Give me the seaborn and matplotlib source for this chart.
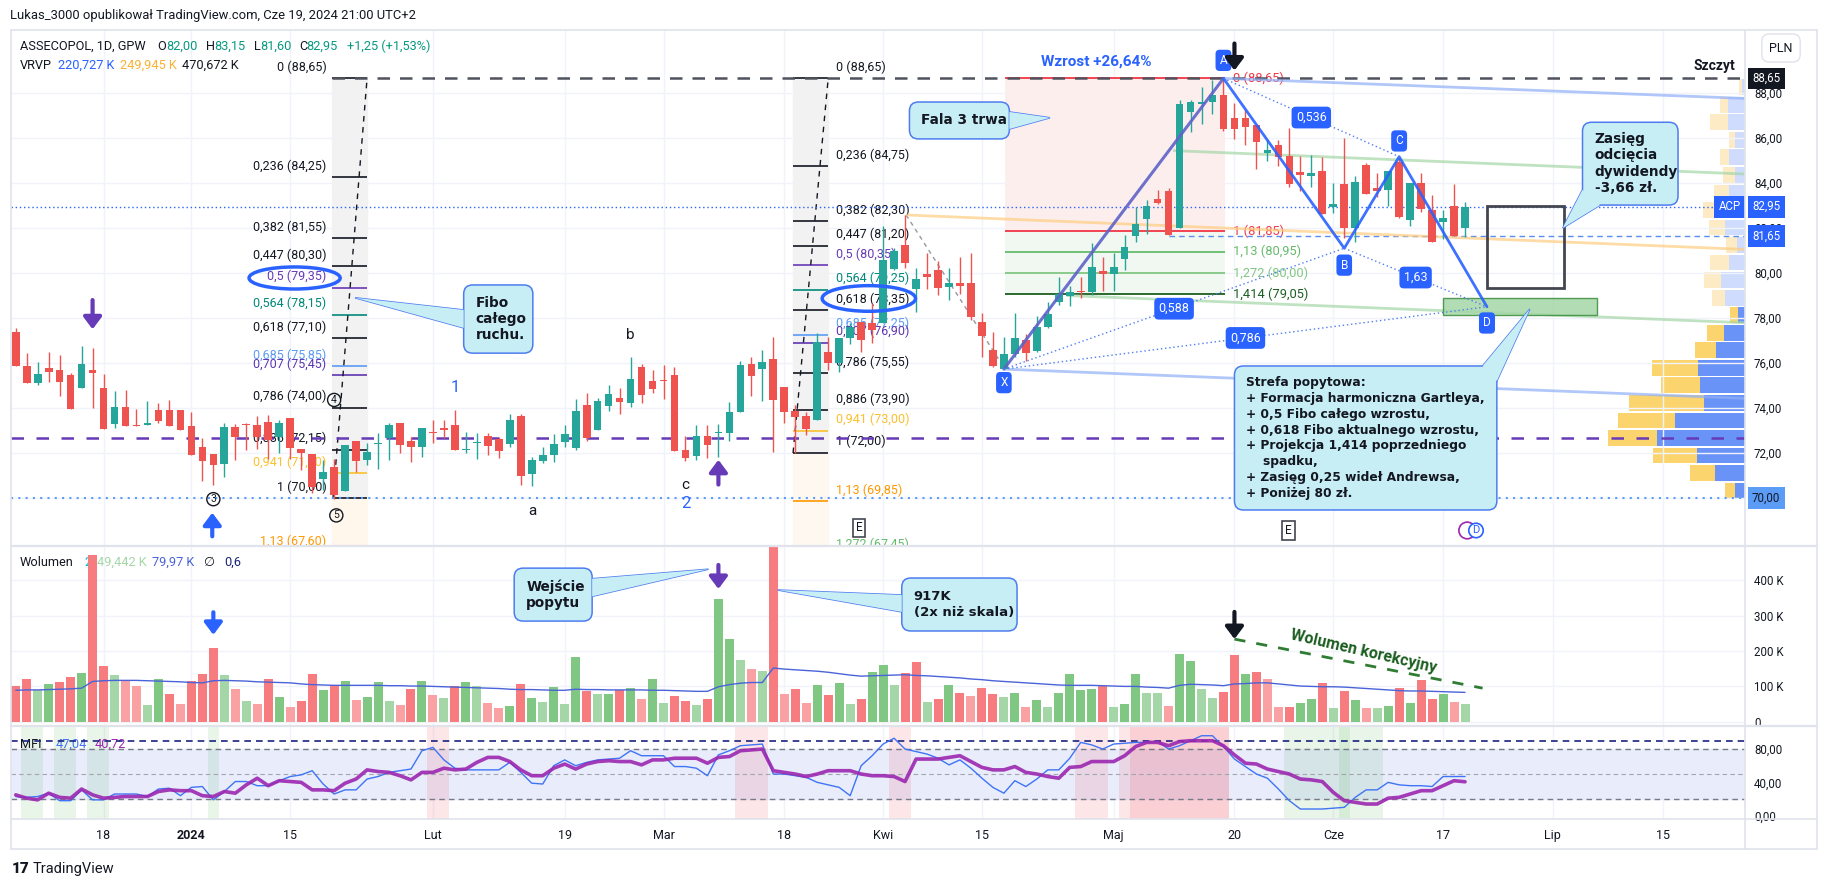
import matplotlib
matplotlib.use("Agg")
import matplotlib.pyplot as plt
import numpy as np
import pandas as pd
import seaborn as sns
from matplotlib.lines import Line2D
from matplotlib.patches import Ellipse, FancyBboxPatch, Polygon, Rectangle
from matplotlib.transforms import IdentityTransform

# ------------------------------------------------------------------ data
first_day = "2023-12-06"
last_day = "2024-07-31"
gpw_holidays = ["2023-12-25", "2023-12-26", "2024-01-01", "2024-03-29",
                "2024-04-01", "2024-05-01", "2024-05-03", "2024-05-30"]

tick_dates = ["2023-12-18", "2024-01-02", "2024-01-15", "2024-02-01", "2024-02-19",
              "2024-03-01", "2024-03-18", "2024-04-02", "2024-04-15", "2024-05-02",
              "2024-05-20", "2024-06-03", "2024-06-17", "2024-07-01", "2024-07-15"]
tick_labels = ["18", "2024", "15", "Lut", "19", "Mar", "18", "Kwi", "15", "Maj",
               "20", "Cze", "17", "Lip", "15"]

open_ = [
    77.40, 75.87, 75.13, 75.79, 75.69, 75.47, 74.90, 75.69, 74.90, 73.30,
    74.04, 73.26, 73.26, 73.91, 73.91, 73.91, 73.21, 72.25, 71.96, 71.53,
    73.17, 73.30, 73.23, 73.36, 72.71, 73.57, 72.18, 71.96, 70.83, 71.38,
    70.33, 72.53, 71.69, 72.41, 72.65, 73.32, 72.53, 72.28, 72.95, 73.10,
    73.24, 72.13, 72.46, 72.74, 72.62, 72.40, 73.64, 71.07, 71.64, 71.91,
    72.50, 72.24, 74.13, 73.02, 74.10, 74.46, 74.24, 75.81, 75.20, 75.24,
    75.47, 72.13, 71.88, 72.76, 72.89, 72.90, 73.84, 75.96, 75.73, 76.18,
    74.95, 73.88, 73.64, 73.47, 76.47, 76.01, 77.13, 77.84, 77.76, 77.76,
    80.19, 81.23, 79.27, 79.94, 80.13, 79.38, 79.54, 79.54, 77.81, 76.58,
    75.73, 76.39, 77.02, 76.55, 77.58, 78.72, 78.99, 79.18, 79.14, 80.09,
    79.96, 80.61, 81.64, 82.39, 83.27, 83.64, 82.01, 87.17, 87.50, 87.59,
    87.91, 86.88, 86.91, 86.58, 85.35, 85.69, 85.20, 84.48, 84.33, 84.54,
    82.95, 83.96, 82.00, 84.80, 83.76, 83.71, 84.92, 82.36, 84.00, 82.80,
    82.28, 82.98, 82.00]
high = [
    77.55, 76.43, 76.04, 76.50, 76.36, 75.54, 76.76, 76.65, 75.50, 74.76,
    74.80, 73.97, 74.31, 74.24, 74.37, 73.93, 73.84, 72.65, 71.96, 73.32,
    73.27, 73.33, 73.66, 73.69, 73.48, 73.57, 72.18, 71.96, 71.69, 71.72,
    72.36, 72.53, 72.43, 72.87, 73.32, 73.32, 72.73, 73.10, 73.45, 73.45,
    73.91, 72.93, 72.90, 72.90, 72.73, 73.73, 73.73, 71.83, 72.28, 72.84,
    73.24, 74.39, 74.69, 74.46, 75.02, 74.90, 76.28, 75.94, 75.69, 75.90,
    75.84, 72.77, 73.24, 73.24, 73.29, 74.28, 76.09, 76.28, 76.60, 77.17,
    74.95, 74.13, 73.84, 77.32, 77.17, 77.13, 77.76, 77.84, 78.65, 82.09,
    81.10, 82.58, 80.23, 80.87, 80.53, 80.24, 80.72, 80.87, 78.21, 77.36,
    77.17, 78.21, 77.29, 78.09, 78.73, 79.81, 79.44, 79.81, 81.32, 80.72,
    80.90, 81.69, 82.95, 83.24, 83.71, 83.76, 87.69, 87.69, 88.25, 88.58,
    88.65, 87.54, 87.24, 86.58, 85.91, 85.91, 86.44, 85.20, 85.24, 85.17,
    84.00, 85.99, 84.32, 84.88, 84.46, 84.52, 85.10, 84.00, 84.44, 83.47,
    82.80, 83.96, 83.15]
low = [
    75.88, 75.13, 75.02, 75.17, 74.53, 73.97, 74.90, 74.01, 73.07, 73.10,
    73.21, 73.19, 73.26, 73.32, 73.21, 73.02, 71.93, 70.77, 70.59, 70.95,
    71.69, 72.13, 72.16, 71.73, 72.00, 71.72, 71.23, 70.21, 70.36, 69.94,
    70.33, 71.17, 71.47, 71.30, 71.69, 72.01, 71.61, 71.83, 72.46, 72.65,
    72.13, 71.99, 71.72, 71.91, 71.79, 72.28, 70.58, 70.53, 71.54, 71.61,
    72.28, 72.13, 72.53, 73.02, 73.88, 73.73, 74.06, 74.24, 74.69, 74.39,
    72.09, 71.64, 71.69, 71.79, 71.83, 72.53, 73.84, 74.53, 74.30, 72.06,
    73.32, 71.99, 72.80, 73.47, 75.69, 75.62, 76.84, 76.50, 76.87, 77.76,
    80.13, 80.23, 78.28, 79.31, 79.02, 78.80, 79.09, 77.90, 76.28, 75.84,
    75.73, 76.28, 76.09, 76.50, 77.55, 78.58, 78.53, 78.87, 79.01, 79.21,
    79.21, 80.13, 81.40, 81.73, 83.06, 81.69, 82.01, 86.28, 86.61, 87.07,
    86.33, 85.96, 85.69, 84.61, 84.99, 84.77, 83.84, 83.66, 83.81, 82.61,
    82.66, 81.54, 81.36, 83.51, 83.39, 82.97, 82.43, 82.10, 82.73, 81.40,
    81.51, 81.64, 81.60]
close = [
    75.88, 75.13, 75.51, 75.61, 75.17, 73.97, 75.96, 75.57, 73.07, 74.04,
    73.21, 73.19, 73.33, 73.42, 73.21, 73.02, 71.93, 71.64, 71.47, 73.17,
    72.70, 73.23, 72.73, 72.58, 73.33, 72.24, 72.01, 70.48, 71.16, 70.13,
    72.36, 71.64, 72.04, 72.44, 73.26, 72.38, 72.28, 73.10, 72.87, 73.04,
    72.13, 72.19, 72.50, 72.33, 72.09, 73.47, 70.98, 71.69, 71.91, 72.40,
    72.84, 73.87, 72.65, 74.31, 74.62, 74.28, 75.29, 74.58, 74.86, 75.19,
    72.09, 71.79, 72.76, 72.36, 72.93, 73.82, 75.91, 75.42, 76.03, 74.36,
    73.84, 73.61, 73.05, 76.95, 76.01, 77.13, 77.61, 77.02, 77.47, 80.58,
    80.98, 80.46, 79.72, 79.81, 79.35, 79.54, 79.44, 78.06, 77.21, 75.88,
    76.40, 77.10, 76.43, 77.58, 78.18, 79.07, 79.14, 79.14, 80.25, 79.96,
    80.25, 81.17, 82.18, 82.98, 83.12, 81.69, 87.50, 87.59, 87.62, 87.91,
    86.39, 86.39, 86.50, 85.84, 85.47, 85.17, 83.96, 84.36, 84.44, 82.61,
    83.05, 82.00, 84.04, 83.51, 83.66, 84.52, 82.47, 84.00, 82.83, 81.40,
    82.43, 81.64, 82.95]

# volume in thousands, with shade code (R/r = down strong/light, G/g = up strong/light)
volume_k = [
    100, 122, 89, 108, 113, 126, 139, 471, 159, 133,
    117, 100, 48, 122, 79, 50, 116, 136, 208, 133,
    93, 59, 50, 122, 70, 42, 59, 136, 90, 105,
    116, 62, 70, 113, 59, 48, 93, 116, 76, 68,
    102, 113, 100, 53, 39, 45, 108, 68, 56, 99,
    50, 182, 88, 79, 79, 89, 96, 65, 122, 53,
    73, 59, 48, 65, 348, 233, 176, 148, 145, 917,
    79, 93, 53, 105, 76, 110, 50, 65, 142, 162,
    105, 139, 170, 56, 65, 105, 82, 73, 96, 79,
    70, 82, 42, 62, 42, 82, 136, 90, 93, 102,
    42, 50, 136, 82, 82, 45, 193, 173, 93, 68,
    85, 188, 136, 142, 122, 42, 42, 53, 65, 110,
    39, 88, 62, 39, 39, 45, 96, 53, 119, 65,
    79, 56, 50]
volume_shade = list(
    "RRgGRRGRRg" "rrgGRrRRRg" "rgrRGrRRGR" "GrGGgrRGrg" "RGgrrGRGgG"
    "gGRgGRGrGg" "RRgRGGgrgR" "rRrGRGgRGG" "gRRgRGRrRR" "gGrGgGGGGR"
    "gGGggrGGgg" "RRGRrrRGGR" "gRGrgGRGRR" "Grg")
volume_ma_k = [
    89, 90, 90, 91, 92, 93, 95, 114, 116, 117,
    117, 117, 116, 115, 114, 113, 111, 110, 116, 117,
    116, 115, 113, 112, 111, 110, 107, 105, 104, 103,
    103, 103, 103, 103, 102, 102, 101, 101, 100, 99,
    98, 97, 96, 95, 94, 92, 91, 91, 90, 89,
    89, 92, 91, 91, 90, 90, 90, 90, 89, 89,
    88, 87, 86, 86, 99, 105, 109, 111, 111, 152,
    149, 147, 145, 143, 140, 136, 132, 129, 130, 131,
    132, 133, 131, 130, 128, 126, 124, 121, 119, 116,
    114, 112, 110, 108, 106, 104, 103, 103, 103, 102,
    101, 100, 100, 98, 97, 95, 103, 106, 105, 104,
    102, 107, 108, 110, 110, 107, 104, 101, 100, 99,
    99, 98, 96, 94, 92, 90, 88, 87, 87, 86,
    85, 84, 83]

mfi = [
    23, 22, 23, 27, 18, 18, 31, 19, 19, 26,
    26, 26, 23, 32, 33, 24, 34, 35, 19, 29,
    41, 41, 36, 36, 42, 47, 49, 54, 38, 26,
    31, 31, 44, 47, 52, 54, 56, 78, 82, 67,
    57, 55, 55, 55, 55, 64, 52, 39, 38, 60,
    67, 60, 64, 67, 68, 69, 78, 72, 72, 72,
    59, 59, 57, 48, 73, 78, 84, 85, 86, 50,
    50, 48, 46, 40, 37, 34, 24, 60, 72, 86,
    93, 80, 77, 74, 69, 61, 67, 57, 45, 34,
    27, 42, 35, 44, 55, 55, 69, 88, 85, 80,
    86, 87, 88, 88, 89, 80, 84, 90, 96, 96,
    83, 68, 59, 50, 45, 32, 18, 8, 8, 8,
    9, 10, 22, 31, 31, 40, 37, 36, 36, 35,
    47, 47, 47.04]
mfi_signal = [
    25, 21, 19, 27, 22, 21, 32, 25, 21, 22,
    23, 23, 23, 29, 31, 30, 30, 24, 23, 29,
    27, 37, 45, 36, 42, 41, 40, 31, 31, 30,
    39, 44, 55, 53, 52, 48, 43, 52, 52, 57,
    55, 56, 64, 70, 70, 65, 55, 48, 48, 57,
    62, 56, 62, 65, 66, 65, 65, 61, 67, 67,
    69, 69, 69, 63, 70, 71, 78, 79, 80, 54,
    52, 50, 47, 50, 54, 54, 54, 50, 48, 48,
    47, 41, 68, 68, 68, 70, 72, 65, 58, 55,
    55, 59, 52, 50, 47, 45, 58, 59, 65, 65,
    65, 72, 83, 88, 88, 84, 89, 90, 90, 90,
    84, 73, 63, 62, 56, 53, 50, 44, 43, 41,
    28, 18, 16, 14, 14, 21, 22, 26, 30, 30,
    36, 42, 40.72]
mfi_low_zones = [(1, 2), (4, 5), (7, 8), (18, 18), (116, 121), (121, 124)]
mfi_high_zones = [(38, 39), (66, 68), (80, 81), (97, 99), (101, 110), (102, 110)]

# visible range volume profile, rows from the low to the high (thousands)
vp_up = [4.0, 12.0, 19.2, 35.2, 28.0, 16.4, 18.0, 18.8, 11.6, 8.4, 2.8, 8.0,
         9.6, 6.4, 3.2, 8.0, 12.0, 6.4, 4.0, 6.4, 4.0, 6.8, 6.8, 1.2]
vp_down = [4.0, 10.0, 17.6, 19.6, 22.8, 30.0, 15.6, 18.4, 8.4, 6.8, 3.2, 5.2,
           6.8, 7.6, 4.4, 6.4, 4.8, 6.0, 4.8, 3.6, 2.4, 7.2, 3.2, 1.2]
vp_value_area = [1, 1, 1, 1, 1, 1, 1, 1, 1, 1, 1, 0, 0, 0, 0, 0, 0, 0, 0, 0, 0, 0, 0, 0]

fib1_levels = [0, 0.236, 0.382, 0.447, 0.5, 0.564, 0.618, 0.685, 0.707, 0.786, 0.886, 0.941, 1, 1.13]
fib1_prices = [88.65, 84.25, 81.55, 80.30, 79.35, 78.15, 77.10, 75.85, 75.45, 74.00, 72.15, 71.10, 70.00, 67.60]
fib2_levels = [0, 0.236, 0.382, 0.447, 0.5, 0.564, 0.618, 0.685, 0.707, 0.786, 0.886, 0.941, 1, 1.13, 1.272]
fib2_prices = [88.65, 84.75, 82.30, 81.20, 80.35, 79.25, 78.35, 77.25, 76.90, 75.55, 73.90, 73.00, 72.00, 69.85, 67.45]
ext_levels = [0, 1, 1.13, 1.272, 1.414]
ext_prices = [88.65, 81.85, 80.95, 80.00, 79.05]

gartley_names = ["X", "A", "B", "C", "D"]
gartley_idx = [90, 110, 121, 126, 134]
gartley_price = [75.73, 88.65, 81.10, 85.17, 78.50]
gartley_ratios = [("X", "B", "0,588"), ("A", "C", "0,536"), ("B", "D", "1,63"), ("X", "D", "0,786")]

# ------------------------------------------------------------------ style
UP, DOWN = "#26a69a", "#ef5350"
VOL_COL = {"R": "#f77c80", "r": "#faa1a4", "G": "#81c784", "g": "#a5d6a7"}
GRID = "#f0f3fa"
TXT = "#131722"
BLUE = "#2962ff"
FIB_COL = {0: TXT, 0.236: TXT, 0.382: TXT, 0.447: TXT, 0.5: "#673ab7", 0.564: "#00897b",
           0.618: TXT, 0.685: "#5b9cf6", 0.707: "#5e35b1", 0.786: TXT, 0.886: TXT,
           0.941: "#fbc02d", 1: TXT, 1.13: "#ff9800", 1.272: "#66bb6a"}
EXT_COL = {0: "#f23645", 1: "#f23645", 1.13: "#66bb6a", 1.272: "#81c784", 1.414: "#1b5e20"}
CALL_FC, CALL_EC = "#c8eef5", "#4e7cf0"

sns.set_theme(style="white")
plt.rcParams["font.family"] = ["Roboto", "DejaVu Sans"]

W, H = 1828, 888
X0, X1 = 11, 1745
PANES = {"price": (30, 546), "vol": (546, 726), "mfi": (726, 819)}
XLIM = (-0.43, 157.5)

days = pd.bdate_range(first_day, last_day, freq="C", holidays=gpw_holidays)
n = len(close)
x = np.arange(n)
o, h, l, c = (np.array(v, dtype=float) for v in (open_, high, low, close))
tick_pos = [days.get_loc(pd.Timestamp(d)) for d in tick_dates]

fig = plt.figure(figsize=(W / 100, H / 100), dpi=100, facecolor="white")


def pane_rect(top, bottom, x0=X0, x1=X1):
    return [x0 / W, 1 - bottom / H, (x1 - x0) / W, (bottom - top) / H]


ax_vp = fig.add_axes(pane_rect(*PANES["price"], x0=X1 - 420))
ax_p = fig.add_axes(pane_rect(*PANES["price"]))
ax_v = fig.add_axes(pane_rect(*PANES["vol"]))
ax_m = fig.add_axes(pane_rect(*PANES["mfi"]))
ax_p.set_facecolor("none")

for ax in (ax_p, ax_v, ax_m):
    ax.set_xlim(*XLIM)
    for sp in ax.spines.values():
        sp.set_visible(False)
    for t in tick_pos:
        ax.axvline(t, color=GRID, lw=1, zorder=0)
    ax.yaxis.tick_right()
    ax.tick_params(axis="both", length=0, labelsize=8.3, colors=TXT)
    ax.tick_params(axis="y", pad=6.5)
    ax.set_xticks([])

ax_p.set_ylim(67.87, 90.8)
ax_v.set_ylim(-12.2, 497.7)
ax_m.set_ylim(-4, 107.7)

# ------------------------------------------------------------------ price pane
p_ticks = np.arange(72, 89, 2)
ax_p.set_yticks(p_ticks, [f"{v:.2f}".replace(".", ",") for v in p_ticks])
for v in np.arange(70, 89, 2):
    ax_p.axhline(v, color=GRID, lw=1, zorder=0)

# volume profile (separate axis, bars grow from the price scale to the left)
vp_edges = np.linspace(l.min(), h.max(), len(vp_up) + 1)
vp_mid = (vp_edges[:-1] + vp_edges[1:]) / 2
vp_h = (vp_edges[1] - vp_edges[0]) * 0.9
va = np.array(vp_value_area, dtype=bool)
ax_vp.set_ylim(ax_p.get_ylim())
ax_vp.set_xlim(168, 0)
ax_vp.barh(vp_mid, vp_up, height=vp_h, color=np.where(va, "#6a93f8", "#cfdcfd"), lw=0)
ax_vp.barh(vp_mid, vp_down, left=vp_up, height=vp_h, color=np.where(va, "#fbd46e", "#fdebc6"), lw=0)
ax_vp.axis("off")


def xfrac(v):
    return (v - XLIM[0]) / (XLIM[1] - XLIM[0])


# fib retracement boxes
ax_p.axhspan(70.0, 88.65, xmin=xfrac(28.8), xmax=xfrac(32.0), color="#f2f2f2", zorder=1)
ax_p.axhspan(67.6, 70.0, xmin=xfrac(28.8), xmax=xfrac(32.0), color="#fff6ec", zorder=1)
ax_p.axhspan(72.0, 88.65, xmin=xfrac(70.8), xmax=xfrac(74.0), color="#f2f2f2", zorder=1)
ax_p.axhspan(67.45, 72.0, xmin=xfrac(70.8), xmax=xfrac(74.0), color="#fff8f0", zorder=1)


def fib_fmt(level, price):
    return f"{level:g}".replace(".", ",") + " (" + f"{price:.2f}".replace(".", ",") + ")"


for lv, pr in zip(fib1_levels, fib1_prices):
    ax_p.hlines(pr, 28.8, 32.0, color=FIB_COL[lv], lw=1.2, zorder=2)
    ax_p.text(28.3, pr + 0.5, fib_fmt(lv, pr), color=FIB_COL[lv], ha="right", va="center",
              fontsize=9, zorder=2)
for lv, pr in zip(fib2_levels, fib2_prices):
    ax_p.hlines(pr, 70.8, 74.0, color=FIB_COL[lv], lw=1.2, zorder=2)
    ax_p.text(74.7, pr + 0.5, fib_fmt(lv, pr), color=FIB_COL[lv], ha="left", va="center",
              fontsize=9, zorder=2)
ax_p.plot([28.9, 32.0], [70.0, 88.65], ls=(0, (4, 4)), color=TXT, lw=1, zorder=3)
ax_p.plot([70.8, 74.0], [72.0, 88.65], ls=(0, (4, 4)), color=TXT, lw=1, zorder=3)

# trend based extension box
ax_p.fill_between([90.1, 110.1], ext_prices[1], ext_prices[0], color="#fdeeee", zorder=1, lw=0)
ax_p.fill_between([90.1, 110.1], ext_prices[-1], ext_prices[1], color="#f1f7f1", zorder=1, lw=0)
for lv, pr in zip(ext_levels, ext_prices):
    ax_p.hlines(pr, 90.1, 110.1, color=EXT_COL[lv], lw=1.3, zorder=2)
    ax_p.text(110.9, pr, fib_fmt(lv, pr), color=EXT_COL[lv], ha="left", va="center",
              fontsize=9.3, zorder=2)
ax_p.plot([81.1, 90.1], [82.58, 75.73], ls=(0, (3, 3)), color="#9598a1", lw=1, zorder=3)

# horizontal levels and fork lines
ax_p.hlines(88.65, 28.8, XLIM[1], color="#50535e", lw=1.8, ls=(0, (5, 4)), zorder=3)
ax_p.axhline(72.68, color="#673ab7", lw=1.8, ls=(0, (5, 5)), zorder=3)
ax_p.axhline(70.0, color="#5b9cf6", lw=1.5, ls=(0, (1, 2.5)), zorder=3)
ax_p.axhline(82.95, color=BLUE, lw=1, ls=(0, (1, 2)), zorder=3)
ax_p.hlines(81.65, 105, XLIM[1], color="#5b8def", lw=1, ls=(0, (4, 3)), zorder=3)
for (xa, ya), (xb, yb), col in [((110, 88.65), (157.5, 87.76), "#90b0f8"),
                                ((90, 75.73), (157.5, 74.43), "#90b0f8"),
                                ((105.4, 85.44), (157.5, 84.40), "#a5d6a7"),
                                ((95.7, 79.0), (157.5, 77.79), "#a5d6a7"),
                                ((81.1, 82.58), (157.5, 81.05), "#ffcc80")]:
    ax_p.plot([xa, xb], [ya, yb], color=col, lw=2, alpha=0.7, zorder=3, solid_capstyle="butt")

ax_p.add_patch(Rectangle((134, 79.32), 7, 3.64, fill=False, ec="#434651", lw=2, zorder=6))
ax_p.add_patch(Rectangle((130, 78.13), 14, 0.74, fc="#a5d6a7", ec="#388e3c", lw=1, alpha=0.85, zorder=6))

# candles
candle_col = np.where(c >= o, UP, DOWN)
ax_p.vlines(x, l, h, colors=candle_col, lw=1, zorder=4)
ax_p.bar(x, np.maximum(np.abs(c - o), 0.05), bottom=np.minimum(o, c), width=0.7,
         color=candle_col, lw=0, zorder=5)

# gartley
gx = dict(zip(gartley_names, gartley_idx))
gy = dict(zip(gartley_names, gartley_price))
ax_p.plot(gartley_idx[:2], gartley_price[:2], color="#5d63c9", lw=2.2, alpha=0.9, zorder=6)
ax_p.plot(gartley_idx[1:], gartley_price[1:], color=BLUE, lw=2, alpha=0.9, zorder=6)
for a, b, txt in gartley_ratios:
    ax_p.plot([gx[a], gx[b]], [gy[a], gy[b]], ls=(0, (1, 2)), color="#4f7df0", lw=1, zorder=6)
    ax_p.text((gx[a] + gx[b]) / 2, (gy[a] + gy[b]) / 2, txt, color="white", fontsize=9,
              ha="center", va="center", zorder=8,
              bbox=dict(boxstyle="round,pad=0.35", fc=BLUE, ec="none"))
for name, off in zip(gartley_names, [-0.6, 0.8, -0.75, 0.7, -0.72]):
    ax_p.text(gx[name], gy[name] + off, name, color="white", fontsize=8.5, ha="center", va="center",
              zorder=8, bbox=dict(boxstyle="round,pad=0.35", fc=BLUE, ec="none"))

ax_p.add_patch(Ellipse((25.4, 79.78), 8.3, 0.98, fill=False, ec=BLUE, lw=2.5, zorder=7))
ax_p.add_patch(Ellipse((77.7, 78.87), 8.5, 1.14, fill=False, ec=BLUE, lw=2.5, zorder=7))

# wave labels and markers
ax_p.text(40, 74.93, "1", color=BLUE, fontsize=12, ha="center", va="center", zorder=7)
ax_p.text(61, 69.75, "2", color=BLUE, fontsize=12, ha="center", va="center", zorder=7)
for s, xx, yy in [("a", 47.1, 69.44), ("b", 56, 77.26), ("c", 61, 70.58)]:
    ax_p.text(xx, yy, s, color=TXT, fontsize=11, ha="center", va="center", zorder=7)
for s, xx, yy in [("3", 18, 69.95), ("4", 29, 74.36), ("5", 29.2, 69.23)]:
    ax_p.text(xx, yy, s, color=TXT, fontsize=7.5, ha="center", va="center", zorder=7,
              bbox=dict(boxstyle="circle,pad=0.15", fc="none", ec=TXT, lw=1))
for s, xx, yy, col in [("E", 76.8, 68.67, TXT), ("E", 115.9, 68.56, TXT)]:
    ax_p.text(xx, yy, s, color=col, fontsize=8.5, ha="center", va="center", zorder=7,
              bbox=dict(boxstyle="square,pad=0.25", fc="white", ec="#434651", lw=1.2))
ax_p.text(132.2, 68.56, " ", fontsize=8, ha="center", va="center", zorder=7,
          bbox=dict(boxstyle="circle,pad=0.3", fc="none", ec="#9c27b0", lw=1.2))
ax_p.text(133, 68.56, "D", color=BLUE, fontsize=8, ha="center", va="center", zorder=7,
          bbox=dict(boxstyle="circle,pad=0.2", fc="white", ec=BLUE, lw=1.2))


def arrow(ax, xx, y_tail, y_tip, col):
    ax.annotate("", xy=(xx, y_tip), xytext=(xx, y_tail), annotation_clip=False, zorder=8,
                arrowprops=dict(arrowstyle="-|>,head_width=0.45,head_length=0.6", color=col,
                                lw=3, shrinkA=0, shrinkB=0, mutation_scale=12))


arrow(ax_p, 7, 78.8, 77.5, "#673ab7")
arrow(ax_p, 17.9, 68.3, 69.35, BLUE)
arrow(ax_p, 64, 70.6, 71.7, "#673ab7")
arrow(ax_p, 111, 90.2, 89.0, TXT)

ax_p.text(98.4, 89.39, "Wzrost +26,64%", color=BLUE, fontsize=11, fontweight="bold",
          ha="center", va="center", zorder=8)
ax_p.text(154.7, 89.18, "Szczyt", color=TXT, fontsize=10, fontweight="bold",
          ha="center", va="center", zorder=8)

# price scale labels
yax = ax_p.get_yaxis_transform()


def fx(px):
    return (px - X0) / (X1 - X0)


for val, fc, tc in [(88.65, TXT, "white"), (82.95, BLUE, "white"), (81.65, BLUE, "white"),
                    (70.00, "#5b9cf6", TXT)]:
    ax_p.text(fx(1752), val, f"{val:.2f}".replace(".", ","), transform=yax, ha="left", va="center",
              fontsize=8.3, color=tc, zorder=9, clip_on=False,
              bbox=dict(boxstyle="square,pad=0.38", fc=fc, ec="none"))
ax_p.text(fx(1741), 82.95, "ACP", transform=yax, ha="right", va="center", fontsize=8.3,
          color="white", zorder=9, clip_on=False, bbox=dict(boxstyle="square,pad=0.38", fc=BLUE, ec="none"))

# ------------------------------------------------------------------ volume pane
v_ticks = [0, 100, 200, 300, 400]
ax_v.set_yticks(v_ticks, ["0"] + [f"{v} K" for v in v_ticks[1:]])
for v in v_ticks:
    ax_v.axhline(v, color=GRID, lw=1, zorder=0)
ax_v.bar(x, volume_k, width=0.82, color=[VOL_COL[s] for s in volume_shade], lw=0, zorder=2)
sns.lineplot(x=x, y=volume_ma_k, ax=ax_v, color="#4a63d8", lw=1, estimator=None, zorder=3)
ax_v.plot([111, 133.6], [234, 95], ls=(0, (4, 4)), color="#2e7d32", lw=2, zorder=4)
ax_v.text(122.8, 200, "Wolumen korekcyjny", rotation=-13, color="#1b5e20", fontsize=11.5,
          fontweight="bold", ha="center", va="center", rotation_mode="anchor", zorder=5)
arrow(ax_v, 18, 310, 246, BLUE)
arrow(ax_v, 64, 444, 376, "#673ab7")
arrow(ax_v, 111, 311, 234, TXT)

# ------------------------------------------------------------------ MFI pane
ax_m.set_yticks([0, 40, 80], ["0,00", "40,00", "80,00"])
ax_m.axhspan(20, 80, color="#e8ecfb", zorder=0)
for a, b in mfi_low_zones:
    ax_m.axvspan(a - 0.5, b + 0.5, color="#4caf50", alpha=0.12, lw=0, zorder=1)
for a, b in mfi_high_zones:
    ax_m.axvspan(a - 0.5, b + 0.5, color="#f23645", alpha=0.12, lw=0, zorder=1)
for lvl, col, lw in [(80, "#787b86", 1), (20, "#787b86", 1), (50, "#a3a6af", 0.8), (90, "#1a237e", 1.2)]:
    ax_m.axhline(lvl, color=col, lw=lw, ls=(0, (4, 3)), zorder=2)
sns.lineplot(x=x, y=mfi, ax=ax_m, color="#3f74f6", lw=1, estimator=None, zorder=3)
sns.lineplot(x=x, y=mfi_signal, ax=ax_m, color="#9c27b0", lw=2.6, alpha=0.9, estimator=None, zorder=4)
ax_m.set_xticks(tick_pos, tick_labels)
ax_m.tick_params(axis="x", pad=7.5, labelsize=9)
for lab in ax_m.get_xticklabels():
    if lab.get_text() == "2024":
        lab.set_fontweight("bold")
for ax in (ax_v, ax_m):
    ax.set_xlabel("")
    ax.set_ylabel("")


# ------------------------------------------------------------------ legends / headers
def pane_txt(ax, pane, px, py, s, **kw):
    top, bot = PANES[pane]
    kw.setdefault("va", "center")
    kw.setdefault("ha", "left")
    kw.setdefault("fontsize", 9.2)
    kw.setdefault("color", TXT)
    ax.text((px - X0) / (X1 - X0), (bot - py) / (bot - top), s, transform=ax.transAxes,
            zorder=1, **kw)


TEAL = "#089981"
for s, px, col in [("ASSECOPOL, 1D, GPW", 20, TXT), ("O", 157, TXT), ("82,00", 166, TEAL),
                   ("H", 206, TXT), ("83,15", 214, TEAL), ("L", 254, TXT), ("81,60", 260, TEAL),
                   ("C", 299, TXT), ("82,95", 306, TEAL), ("+1,25 (+1,53%)", 347, TEAL)]:
    pane_txt(ax_p, "price", px, 46.7, s, color=col)
for s, px, col in [("VRVP", 20, TXT), ("220,727 K", 58, BLUE), ("249,945 K", 120, "#f9b233"),
                   ("470,672 K", 182, TXT)]:
    pane_txt(ax_p, "price", px, 65, s, color=col)
for s, px, col in [("Wolumen", 20, TXT), ("2", 84, "#00bcd4"), ("49,442 K", 97, "#a5d6a7"),
                   ("79,97 K", 152, "#4a63d8"), ("\u2205", 203, TXT), ("0,6", 224, "#1a237e")]:
    pane_txt(ax_v, "vol", px, 562.7, s, color=col)
for s, px, col in [("MFI", 20, TXT), ("47,04", 56, "#3f74f6"), ("40,72", 95, "#9c27b0")]:
    pane_txt(ax_m, "mfi", px, 744, s, color=col)

fig.text(10 / W, 1 - 15 / H, "Lukas_3000 opublikował TradingView.com, Cze 19, 2024 21:00 UTC+2",
         fontsize=9.4, color=TXT, va="center", ha="left")
fig.text(12 / W, 1 - 869 / H, "17", fontsize=11, fontweight="heavy", color=TXT, va="center", ha="left")
fig.text(33 / W, 1 - 869 / H, "TradingView", fontsize=10.5, color=TXT, va="center", ha="left")
fig.text(1781 / W, 1 - 48 / H, "PLN", fontsize=9, color=TXT, va="center", ha="center",
         bbox=dict(boxstyle="round,pad=0.6", fc="white", ec="#e0e3eb"))

# frame and pane separators (pixel space, y from top)
ident = IdentityTransform()


def hline_px(y, x0, x1, col="#e0e3eb", lw=1.2):
    fig.add_artist(Line2D([x0, x1], [H - y, H - y], transform=ident, color=col, lw=lw, zorder=20))


def vline_px(xp, y0, y1, col="#e0e3eb", lw=1.2):
    fig.add_artist(Line2D([xp, xp], [H - y0, H - y1], transform=ident, color=col, lw=lw, zorder=20))


for yy in (30, 546, 726, 819, 849):
    hline_px(yy, X0, 1817, lw=1.6 if yy in (546, 726) else 1.2)
vline_px(X0, 30, 849)
vline_px(X1, 30, 849)
vline_px(1817, 30, 849)


# ------------------------------------------------------------------ callouts (anchored in data space)
def callout(ax, box, tip, base, text, fs=9.8, ls=1.22):
    (xa, ya), (xb, yb) = ax.transData.transform([box[0], box[1]])
    left, right, top, bot = min(xa, xb), max(xa, xb), max(ya, yb), min(ya, yb)
    tip_px = ax.transData.transform(tip)
    base_px = ax.transData.transform(base)
    tail = np.vstack([base_px[0], tip_px, base_px[1]])
    fig.add_artist(Polygon(tail, closed=True, transform=ident, fc=CALL_FC, ec=CALL_EC, lw=1.1, zorder=30))
    fig.add_artist(FancyBboxPatch((left, bot), right - left, top - bot, transform=ident,
                                  boxstyle="round,pad=0,rounding_size=9", fc=CALL_FC, ec=CALL_EC,
                                  lw=1.1, zorder=31))
    fig.add_artist(Polygon(tail, closed=True, transform=ident, fc=CALL_FC, ec="none", zorder=32))
    fig.text(left + 12, (top + bot) / 2, text, transform=ident, ha="left", va="center",
             fontsize=fs, fontweight="bold", color=TXT, linespacing=ls, zorder=33,
             family=["DejaVu Sans"])


callout(ax_p, [(40.8, 79.47), (47.1, 76.44)], (30.9, 78.9), [(40.8, 78.36), (40.8, 77.56)],
        "Fibo\ncałego\nruchu.")
callout(ax_p, [(81.4, 87.6), (90.5, 85.96)], (94.2, 86.9), [(90.5, 87.16), (90.5, 86.4)],
        "Fala 3 trwa")
callout(ax_p, [(142.7, 86.7), (151.4, 83.02)], (140.9, 82.0), [(142.7, 83.7), (144.3, 83.02)],
        "Zasięg\nodcięcia\ndywidendy\n-3,66 zł.")
callout(ax_p, [(111.0, 75.87), (134.9, 69.47)], (137.9, 78.4), [(133.6, 75.87), (134.9, 75.2)],
        "Strefa popytowa:\n+ Formacja harmoniczna Gartleya,\n+ 0,5 Fibo całego wzrostu,\n"
        "+ 0,618 Fibo aktualnego wzrostu,\n+ Projekcja 1,414 poprzedniego\n    spadku,\n"
        "+ Zasięg 0,25 wideł Andrewsa,\n+ Poniżej 80 zł.", fs=8.8, ls=1.28)
callout(ax_v, [(45.4, 435), (52.5, 285)], (63.1, 432), [(52.5, 405), (52.5, 355)],
        "Wejście\npopytu")
callout(ax_v, [(80.7, 407), (91.2, 257)], (69.4, 373), [(80.7, 359), (80.7, 311)],
        "917K\n(2x niż skala)", fs=9.5)

fig.savefig("out.png", dpi=100)
